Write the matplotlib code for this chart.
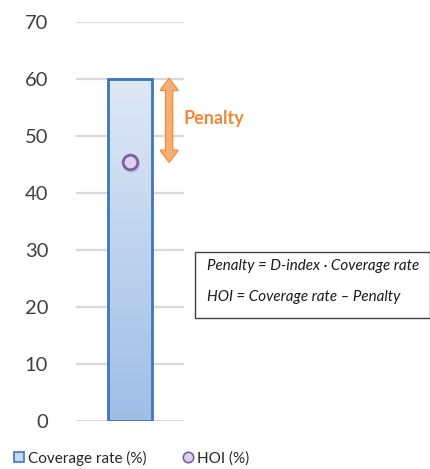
import numpy as np
import matplotlib.pyplot as plt
import matplotlib.patches as mpatches
from matplotlib.lines import Line2D
from matplotlib.colors import LinearSegmentedColormap

plt.rcParams['font.family'] = ['Lato', 'DejaVu Sans']

categories = ["Group"]
coverage_rate = [60.0]
hoi = [45.5]
y_ticks = [0, 10, 20, 30, 40, 50, 60, 70]
formula_lines = ["Penalty = D-index \u00b7 Coverage rate",
                 "HOI = Coverage rate \u2013 Penalty"]

W, H = 431, 469
fig = plt.figure(figsize=(W / 100, H / 100), dpi=100)
ax = fig.add_axes([76 / W, 48 / H, 108 / W, (421 - 22) / H])

x = np.arange(len(categories))
bars = ax.bar(x, coverage_rate, width=0.98, facecolor='none',
              edgecolor='#3b77c0', linewidth=2, zorder=3)

# vertical gradient inside the bar
grad_cmap = LinearSegmentedColormap.from_list('g', ['#9fbde5', '#dfe9f6'])
for b in bars:
    gx0, gy0 = b.get_x(), b.get_y()
    im = ax.imshow(np.linspace(0, 1, 256).reshape(-1, 1), cmap=grad_cmap,
                   origin='lower', aspect='auto', zorder=2,
                   extent=[gx0, gx0 + b.get_width(), gy0, gy0 + b.get_height()])
    im.set_clip_path(b)

# HOI point with a soft shadow
ax.scatter(x + 0.03, [v - 0.4 for v in hoi], s=150, color='#7f7f7f',
           alpha=0.25, zorder=4, linewidths=0)
ax.scatter(x, hoi, s=110, facecolor='#ddd3ec', edgecolor='#7d5fa8',
           linewidth=2, zorder=5)

# penalty arrow between coverage rate and HOI (two halves, outline then fill)
ax_x = x[0] + 0.87
mid = (coverage_rate[0] + hoi[0]) / 2
style = 'simple,head_width=1.2,head_length=0.8,tail_width=0.45'
for z, ec, lw in [(6, '#ef8a3c', 1.6), (7, 'none', 0)]:
    for y_to in [coverage_rate[0], hoi[0]]:
        ax.annotate('', xy=(ax_x, y_to), xytext=(ax_x, mid),
                    arrowprops=dict(arrowstyle=style, fc='#f8ad73', ec=ec, lw=lw,
                                    shrinkA=0, shrinkB=0),
                    annotation_clip=False, zorder=z)
ax.text(ax_x + 0.32, 53.0, 'Penalty', color='#f0883a', fontsize=13,
        fontweight='bold', va='center', ha='left', clip_on=False)

ax.set_xlim(-1.2, 1.2)
ax.set_ylim(0, 70)
ax.set_yticks(y_ticks)
ax.set_xticks([])
ax.yaxis.grid(True, color='#d9d9d9', linewidth=1.6, zorder=0)
ax.set_axisbelow(True)
for s in ax.spines.values():
    s.set_visible(False)
ax.tick_params(axis='y', length=0, pad=20, labelsize=14.5, labelcolor='#404040')

# formula box
fig.patches.append(mpatches.Rectangle((195 / W, (469 - 318) / H), 235 / W, 66 / H,
                                      transform=fig.transFigure, facecolor='white',
                                      edgecolor='#404040', linewidth=1))
for i, line in enumerate(formula_lines):
    fig.text(207 / W, (469 - 266 - i * 31) / H, line, fontsize=10.9,
             style='italic', color='#1a1a1a', va='center', ha='left')

handles = [Line2D([], [], marker='s', linestyle='none', markersize=7.5,
                  markerfacecolor='#c5d7ef', markeredgecolor='#3b77c0', markeredgewidth=1.2),
           Line2D([], [], marker='o', linestyle='none', markersize=7.5,
                  markerfacecolor='#ddd3ec', markeredgecolor='#7d5fa8', markeredgewidth=1.2)]
fig.legend(handles, ['Coverage rate (%)', 'HOI (%)'], loc='center left',
           bbox_to_anchor=(-0.005, 11 / H), ncol=2, frameon=False, fontsize=11,
           handletextpad=0.1, columnspacing=2.2, handlelength=1.0,
           labelcolor='#262626')

fig.savefig('out.png', dpi=100)
